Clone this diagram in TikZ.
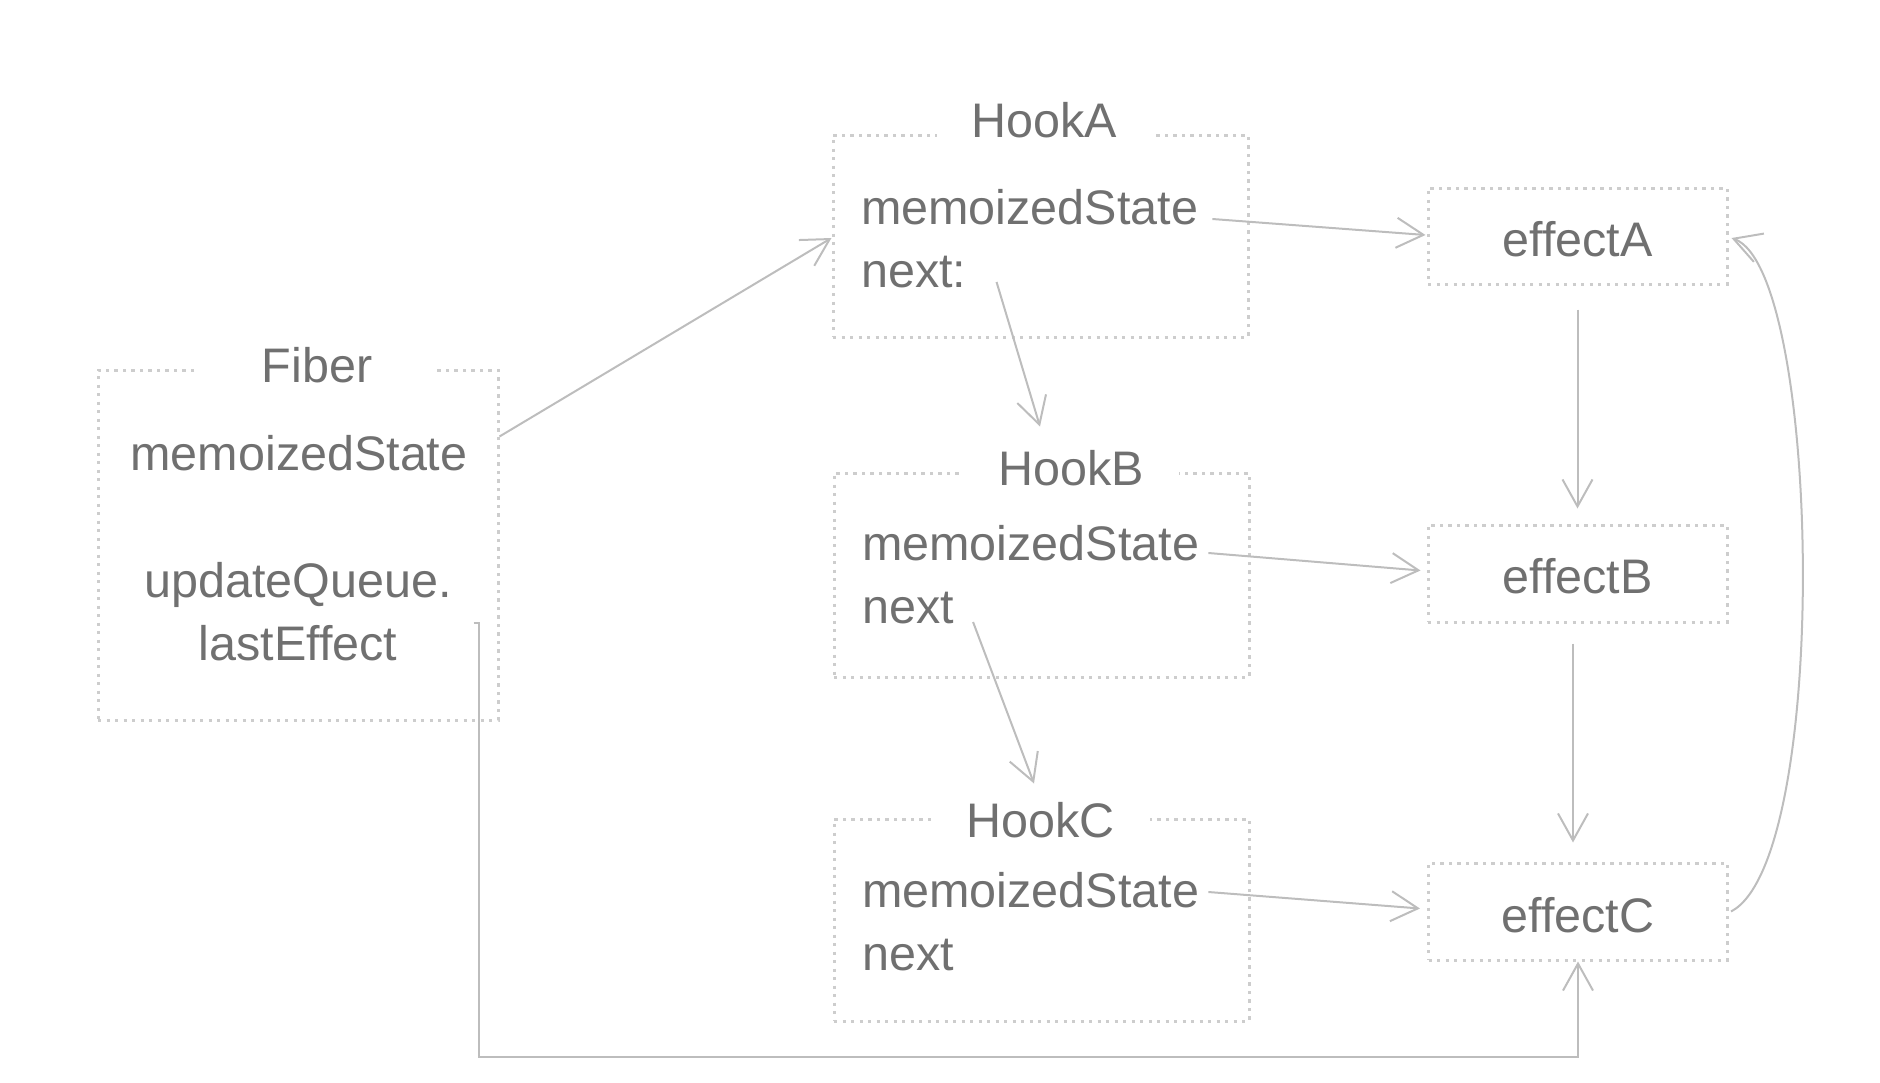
\documentclass[tikz,border=0pt]{standalone}
\usepackage{fontspec}
\setmainfont{Liberation Sans}
\usetikzlibrary{arrows.meta,calc}
\definecolor{txt}{HTML}{707070}
\definecolor{ln}{HTML}{BDBDBD}
\definecolor{bd}{HTML}{CDCDCD}
\begin{document}
\begin{tikzpicture}[x=1pt,y=-1pt,
 box/.style={draw=bd, line width=3pt, dash pattern=on 3.3pt off 5.2pt, inner sep=0pt},
 lbl/.style={text=txt, font=\fontsize{48.5}{58}\selectfont, inner sep=0pt},
 ttl/.style={lbl, fill=white, inner xsep=35pt, inner ysep=6pt},
 arr/.style={draw=ln, line width=2pt, -{Straight Barb[length=27pt,width=30pt,line width=2pt]}},
]
\useasboundingbox (0,0) rectangle (1880,1082);

% boxes
\node[box, minimum width=400pt, minimum height=350pt] (fiber) at (298,545) {};
\node[box, minimum width=415pt, minimum height=202pt] (hookA) at (1040.5,236) {};
\node[box, minimum width=415pt, minimum height=204pt] (hookB) at (1041.5,575) {};
\node[box, minimum width=415pt, minimum height=202pt] (hookC) at (1041.5,920) {};
\node[box, minimum width=299pt, minimum height=96pt] (effA) at (1577.5,236) {};
\node[box, minimum width=299pt, minimum height=97pt] (effB) at (1577.5,573.5) {};
\node[box, minimum width=299pt, minimum height=97pt] (effC) at (1578,911.5) {};

% titles
\node[ttl, anchor=base, inner xsep=65pt] (fibert) at (317,382) {Fiber};
\node[ttl, anchor=base] (hookAt) at (1044.5,137) {HookA};
\node[ttl, anchor=base] (hookBt) at (1071,485) {HookB};
\node[ttl, anchor=base] (hookCt) at (1040.5,837) {HookC};

% texts
\node[lbl, anchor=base] (fms) at (299,470) {memoizedState};
\node[lbl, anchor=base] (fuq) at (298,597) {updateQueue.};
\node[lbl, anchor=base] (fle) at (298,660) {lastEffect};

\node[lbl, anchor=base west] (msA) at (861,224) {memoizedState};
\node[lbl, anchor=base west] (nextA) at (861,287) {next:};
\node[lbl, anchor=base west] (msB) at (862,560) {memoizedState};
\node[lbl, anchor=base west] (nextB) at (862,623) {next};
\node[lbl, anchor=base west] (msC) at (862,907) {memoizedState};
\node[lbl, anchor=base west] (nextC) at (862,970) {next};

\node[lbl, anchor=base] (effAt) at ($(effA.center)+(0,20)$) {effectA};
\node[lbl, anchor=base] (effBt) at ($(effB.center)+(0,19.5)$) {effectB};
\node[lbl, anchor=base] (effCt) at ($(effC.center)+(0,20.5)$) {effectC};

% connectors
\draw[arr] ($(fiber.north east)+(0,68)$) -- ($(hookA.west)+(0,2)$);
\draw[arr] ($(msA.base east)+(14,-5)$) -- ($(effA.west)+(-1,-1)$);
\draw[arr] ($(nextA.base east)+(30,-5)$) -- ($(hookA.south)+(-0.5,88)$);
\draw[arr] ($(msB.base east)+(9,-7)$) -- ($(effB.west)+(-6,-3)$);
\draw[arr] ($(nextB.base east)+(19,-1)$) -- ($(hookB.south)+(-7.5,105)$);
\draw[arr] ($(msC.base east)+(9,-15)$) -- ($(effC.west)+(-7,-3)$);
\draw[arr] ($(effA.south)+(0,24)$) -- ($(effB.north)+(0,-15)$);
\draw[arr] ($(effB.south)+(-4.5,20)$) -- ($(effC.north)+(-5,-19)$);
\draw[arr] ($(effC.east)+(2,0)$) .. controls ($(effC.east)+(102,-52)$) and ($(effA.east)+(93,34)$) .. ($(effA.east)+(3,2)$);
\draw[arr] ($(fiber.east)+(-26,78)$) -- ++(5,0) -- ($(fiber.east)+(-21,512)$) -| (effC.south);
\end{tikzpicture}
\end{document}
